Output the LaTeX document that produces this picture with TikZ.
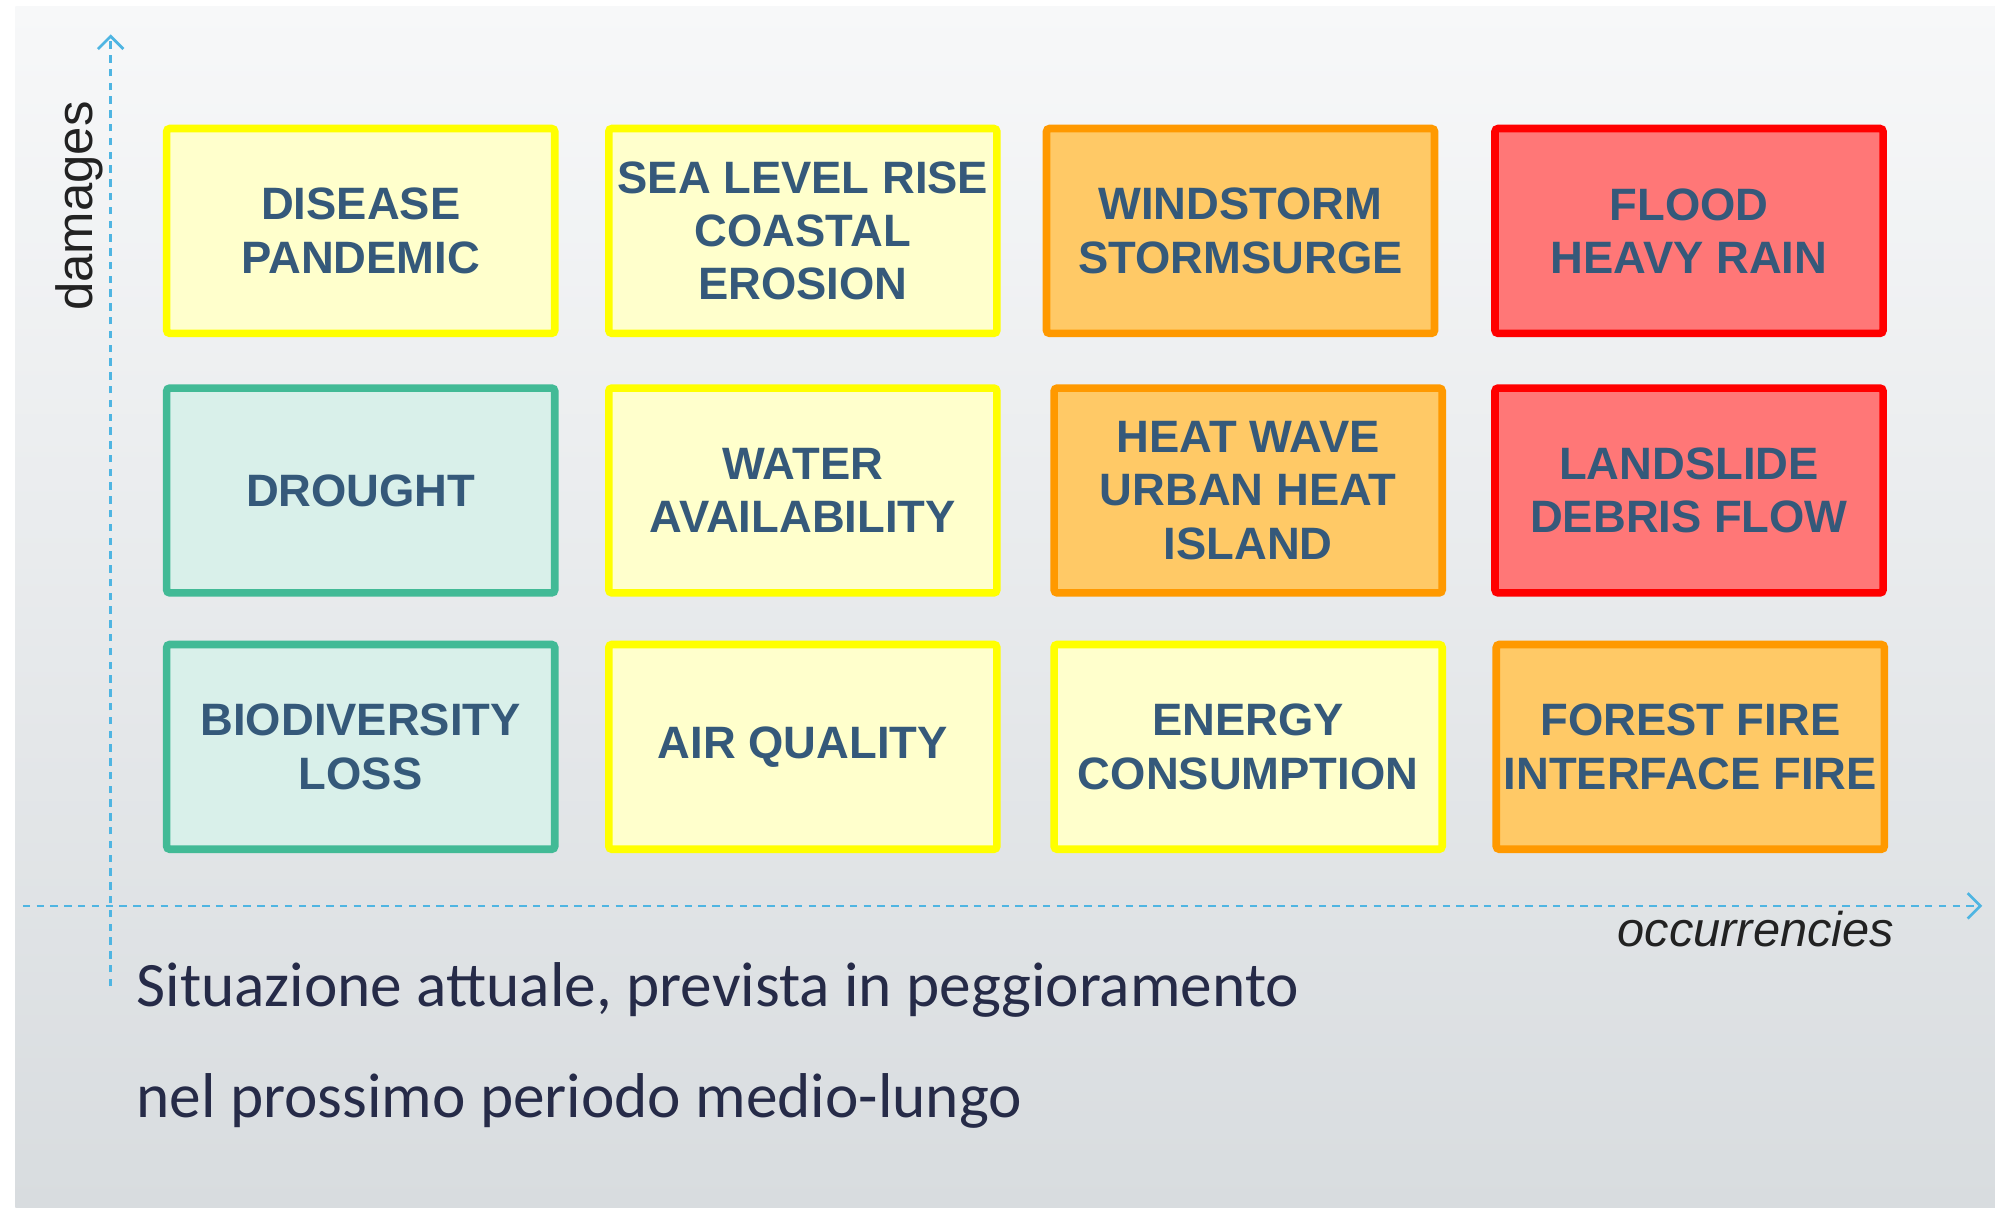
\documentclass[tikz,border=0pt]{standalone}
\usepackage{fontspec}
\setmainfont{Liberation Sans}
\newfontfamily\calibri{Carlito}
\usetikzlibrary{arrows.meta}

\definecolor{txtblue}{HTML}{35597A}
\definecolor{yelline}{HTML}{FFFF00}
\definecolor{yelfill}{HTML}{FFFFCC}
\definecolor{orline}{HTML}{FF9900}
\definecolor{orfill}{HTML}{FFC966}
\definecolor{redline}{HTML}{FF0000}
\definecolor{redfill}{HTML}{FF7777}
\definecolor{grline}{HTML}{42BA96}
\definecolor{grfill}{HTML}{D9F0EA}
\definecolor{axisblue}{HTML}{4FB5E2}
\definecolor{captxt}{HTML}{262B48}
\definecolor{labgray}{HTML}{222222}
\definecolor{bgtop}{HTML}{F7F8F9}
\definecolor{bgbot}{HTML}{D8DCDF}

\tikzset{
  risk/.style={draw, line width=3.6pt, rounded corners=1.5pt, minimum width=183pt, minimum height=96.6pt,
    align=center, inner sep=0pt, text=txtblue, font=\fontsize{21.4}{25.2}\selectfont\bfseries},
  riskgreen/.style={risk, draw=grline, fill=grfill},
  riskyellow/.style={risk, draw=yelline, fill=yelfill},
  riskorange/.style={risk, draw=orline, fill=orfill},
  riskred/.style={risk, draw=redline, fill=redfill},
  axis/.style={axisblue, line width=1.3pt, dash pattern=on 3.5pt off 3pt, -{Straight Barb[length=6pt,width=12pt]}},
  caption/.style={anchor=base west, inner sep=0pt, text=captxt, font=\calibri\fontsize{29.85}{30}\selectfont}
}

\begin{document}
\begin{tikzpicture}[x=0.6pt,y=-0.6pt]
\useasboundingbox (0,0) rectangle (1568,949);
\shade[top color=bgtop, bottom color=bgbot] (12,5) rectangle (1568,949);

% axes
\coordinate (yfoot) at (87,775);
\coordinate (ytip) at (87,27);
\coordinate (xfoot) at (18,712);
\coordinate (xtip) at (1558,712);
\draw[axis] (yfoot) -- (ytip);
\draw[axis] (xfoot) -- (xtip);
\node[rotate=90, inner sep=0pt, text=labgray, font=\fontsize{24}{24}\selectfont] (damages) at (62,162) {damages};
\node[anchor=base east, inner sep=0pt, text=labgray, font=\fontsize{23}{23}\selectfont\itshape] (occurr) at (1489,744) {occurrencies};

% risk matrix
\node[riskyellow] (disease) at (283.5,181.5) {DISEASE\\PANDEMIC};
\node[riskyellow] (sealevel) at (631,181.5) {SEA LEVEL RISE\\COASTAL\\EROSION};
\node[riskorange] (windstorm) at (975,181.5) {WINDSTORM\\STORMSURGE};
\node[riskred] (flood) at (1327.5,181.5) {FLOOD\\HEAVY RAIN};

\node[riskgreen] (drought) at (283.5,385.5) {DROUGHT};
\node[riskyellow] (water) at (631,385.5) {WATER\\AVAILABILITY};
\node[riskorange] (heatwave) at (981,385.5) {HEAT WAVE\\URBAN HEAT\\ISLAND};
\node[riskred] (landslide) at (1327.5,385.5) {LANDSLIDE\\DEBRIS FLOW};

\node[riskgreen] (biodiv) at (283.5,587) {BIODIVERSITY\\LOSS};
\node[riskyellow] (airq) at (631,587) {AIR QUALITY};
\node[riskyellow] (energy) at (981,587) {ENERGY\\CONSUMPTION};
\node[riskorange] (forest) at (1328.5,587) {FOREST FIRE\\INTERFACE FIRE};

% caption
\node[caption] (capone) at (107,791) {Situazione attuale, prevista in peggioramento};
\node[caption] (captwo) at (107,878) {nel prossimo periodo medio-lungo};
\end{tikzpicture}
\end{document}
